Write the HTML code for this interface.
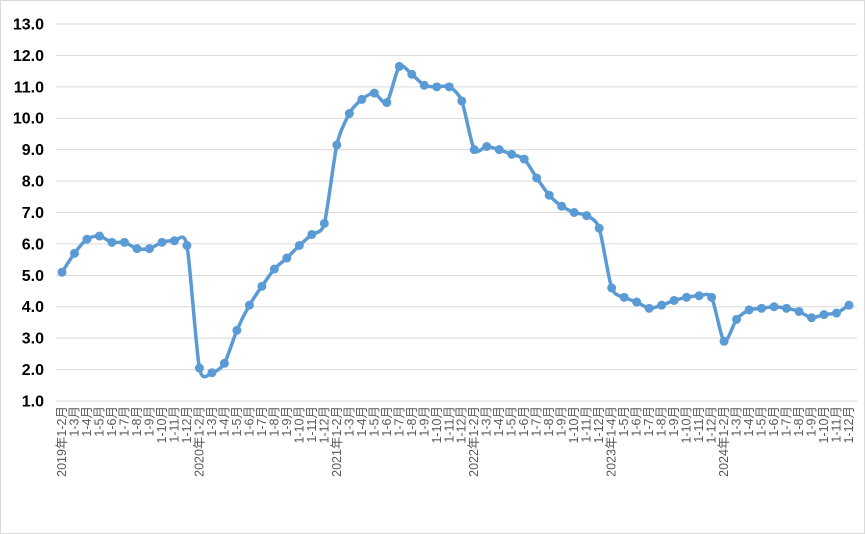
<!DOCTYPE html>
<html><head><meta charset="utf-8"><style>
body{margin:0;background:#fff;}
svg{display:block;}
</style></head><body>
<svg id="c" width="865" height="534" xmlns="http://www.w3.org/2000/svg"></svg>
<script>
var s=document.getElementById('c'),h='';
h+='<rect x="0.5" y="0.5" width="864" height="533" fill="#fff" stroke="#d9d9d9"/>';
function Y(v){return 401-(v-1)*31.417;}
for(var v=1;v<=13;v++){var y=Y(v);
 h+='<line x1="56" x2="857" y1="'+y+'" y2="'+y+'" stroke="#d9d9d9" stroke-width="1"/>';
 h+='<text x="44" y="'+(y+5.5)+'" text-anchor="end" font-family="Liberation Sans,sans-serif" font-weight="bold" font-size="16" fill="#000">'+v.toFixed(1)+'</text>';}
var d=[5.1,5.7,6.15,6.25,6.05,6.05,5.85,5.85,6.05,6.1,5.95,
2.05,1.9,2.2,3.25,4.05,4.65,5.2,5.55,5.95,6.3,6.65,
9.15,10.15,10.6,10.8,10.5,11.65,11.4,11.05,11.0,11.0,10.55,
9.0,9.1,9.0,8.85,8.7,8.1,7.55,7.2,7.0,6.9,6.5,
4.6,4.3,4.15,3.95,4.05,4.2,4.3,4.35,4.3,
2.9,3.6,3.9,3.95,4.0,3.95,3.85,3.65,3.75,3.8,4.05];
var yrs=[[2019,2,11],[2020,2,11],[2021,2,11],[2022,2,11],[2023,4,9],[2024,2,11]];
var n=d.length,step=(849-62)/(n-1),P=[];
for(var i=0;i<n;i++)P.push([62+i*step,Y(d[i])]);
var p='M'+P[0][0]+','+P[0][1];
for(var i=0;i<n-1;i++){var a=P[Math.max(i-1,0)],b=P[i],c=P[i+1],e=P[Math.min(i+2,n-1)],t=8;
 p+=' C'+(b[0]+(c[0]-a[0])/t)+','+(b[1]+(c[1]-a[1])/t)+' '+(c[0]-(e[0]-b[0])/t)+','+(c[1]-(e[1]-b[1])/t)+' '+c[0]+','+c[1];}
h+='<path d="'+p+'" fill="none" stroke="#5b9bd5" stroke-width="3.5"/>';
P.forEach(function(q){h+='<circle cx="'+q[0]+'" cy="'+q[1]+'" r="4.5" fill="#5b9bd5"/>';});
var k=0;
yrs.forEach(function(yy){for(var j=0;j<yy[2];j++){var m=j+yy[1],lab=(j==0?yy[0]+'年':'')+'1-'+m+'月';
 var x=62+k*step+4;
 h+='<text transform="translate('+x+',406) rotate(-90)" text-anchor="end" font-family="Liberation Sans,Noto Sans CJK SC,sans-serif" font-size="12.5" fill="#595959">'+lab+'</text>';k++;}});
s.innerHTML=h;
</script>
</body></html>
